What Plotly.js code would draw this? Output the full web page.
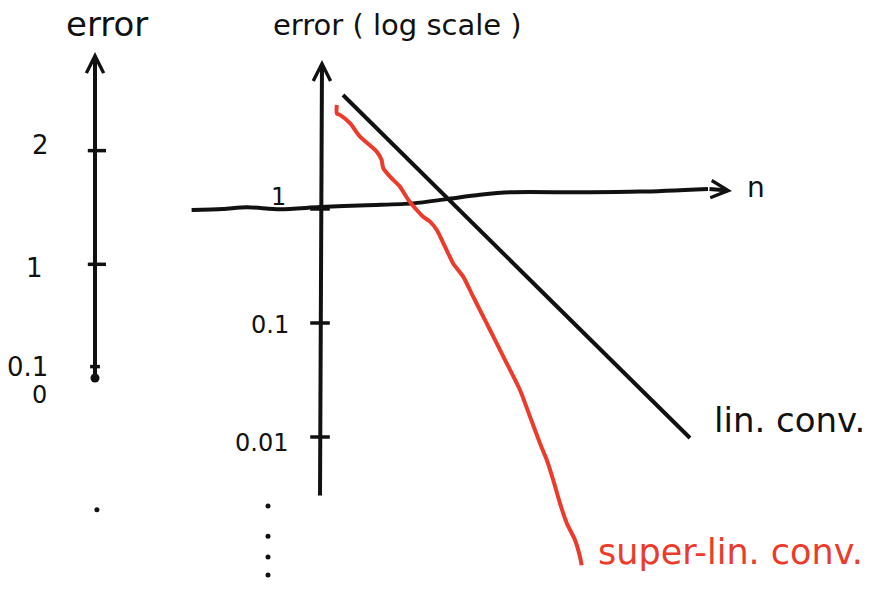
<!DOCTYPE html>
<html>
<head>
<meta charset="utf-8">
<script src="https://cdn.plot.ly/plotly-3.0.1.min.js"></script>
<style>
  html, body { margin: 0; padding: 0; background: #ffffff; }
  #chart { width: 885px; height: 590px; }
</style>
</head>
<body>
<div id="chart"></div>
<script>
// ---- Left sketch: error on a plain (linear) axis ----
const linTickVals = [2, 1, 0.1];
const linTickText = ['2', '1', '0.1'];
const linZeroVal = [0];
const linAxisTop = 2.867;      // where the arrow tip sits
const linAxisBottom = -0.044;
const linTrailDot = [-1.16];   // lone dot under the axis

// ---- Right sketch: error on a log scale against iteration n ----
const logTickVals = [1, 0.1, 0.01];
const logTickText = ['1', '0.1', '0.01'];
const logAxisTop = 20.3;
const logAxisBottom = 0.00298;
const ellipsisN = [-1.3, -1.3, -1.3, -1.3];
const ellipsisErr = [0.00248, 0.00135, 0.000885, 0.000615];

// hand-drawn n axis (runs along error = 1)
const nAxisN   = [-3.21, -2.43, -1.83, -1.0, 0, 1.17, 2.33, 3.17, 4.0, 4.75, 6.5, 8.0, 9.7];
const nAxisErr = [0.98, 1.0, 1.035, 0.994, 1.04, 1.08, 1.12, 1.22, 1.33, 1.40, 1.40, 1.42, 1.50];

// linear convergence: a straight line on the log scale
const linConvN   = [0.575, 9.25];
const linConvErr = [10, 0.0098];

// super-linear convergence: bends ever more steeply downward
const superN = [0.42, 0.42, 0.5, 0.75, 1.0, 1.42, 1.54, 1.58, 1.75, 2.0, 2.21, 2.42, 2.58,
                2.75, 2.92, 3.125, 3.33, 3.58, 3.83, 4.08, 4.25, 4.46, 4.71, 5.0, 5.25,
                5.5, 5.67, 5.83, 6.0, 6.17, 6.375, 6.5, 6.54];
const superErr = [8.17, 6.9, 6.68, 5.65, 4.31, 3.18, 2.69, 2.28, 1.92, 1.57, 1.20, 0.98, 0.855,
                  0.774, 0.654, 0.467, 0.333, 0.255, 0.170, 0.114, 0.0868, 0.062, 0.0414, 0.0258, 0.0151,
                  0.0088, 0.00628, 0.0042, 0.00262, 0.00175, 0.00125, 0.00089, 0.00075];

const INK = '#111111';
const RED = '#ec3b2a';
const FONT = 'DejaVu Sans';
const lg = Math.log10;

// one short horizontal tick mark per value
function tickTrace(xa, ya, xs, ys, size) {
  return { x: xs, y: ys, xaxis: xa, yaxis: ya, mode: 'markers',
    marker: { symbol: 'line-ew-open', size: size, color: INK, line: { color: INK, width: 3.5 } },
    hoverinfo: 'skip' };
}

const traces = [
  // left axis tick marks (the 0.1 one is only a nub)
  tickTrace('x', 'y', [0.02, 0.02], linTickVals.slice(0, 2), 13),
  tickTrace('x', 'y', [0.0], linTickVals.slice(2), 7),
  { x: [0], y: linZeroVal, xaxis: 'x', yaxis: 'y', mode: 'markers',
    marker: { symbol: 'circle', size: 9, color: INK }, hoverinfo: 'skip' },
  { x: [0.02], y: linTrailDot, xaxis: 'x', yaxis: 'y', mode: 'markers',
    marker: { symbol: 'circle', size: 5, color: INK }, hoverinfo: 'skip' },

  // right: n axis
  { x: nAxisN, y: nAxisErr, xaxis: 'x2', yaxis: 'y2', mode: 'lines',
    line: { color: INK, width: 4, shape: 'spline', smoothing: 0.8 }, hoverinfo: 'skip' },
  // log axis tick marks
  tickTrace('x2', 'y2', logTickVals.map(() => 0), logTickVals, 14),
  // vertical ellipsis under the log axis labels
  { x: ellipsisN, y: ellipsisErr, xaxis: 'x2', yaxis: 'y2', mode: 'markers',
    marker: { symbol: 'circle', size: 5, color: INK }, hoverinfo: 'skip' },

  // linear convergence
  { x: linConvN, y: linConvErr, xaxis: 'x2', yaxis: 'y2', mode: 'lines',
    line: { color: INK, width: 4 }, hoverinfo: 'skip' },
  // super-linear convergence
  { x: superN, y: superErr, xaxis: 'x2', yaxis: 'y2', mode: 'lines',
    line: { color: RED, width: 4, shape: 'spline', smoothing: 0.6 }, hoverinfo: 'skip' }
];

function arrow(xref, yref, x0, y0, x1, y1) {
  return {
    xref: xref, yref: yref, axref: xref, ayref: yref,
    x: x1, y: y1, ax: x0, ay: y0, text: '',
    showarrow: true, arrowhead: 5, arrowsize: 0.85, arrowwidth: 4,
    arrowcolor: INK, standoff: 0, startstandoff: 0
  };
}

function label(text, xref, yref, x, y, size, color, opts) {
  return Object.assign({
    xref: xref, yref: yref, x: x, y: y, text: text, showarrow: false,
    font: { family: FONT, size: size, color: color || INK }
  }, opts || {});
}

const annotations = [
  // axes drawn as arrows
  arrow('x', 'y', 0, linAxisBottom, 0, linAxisTop),
  arrow('x2', 'y2', 0, lg(logAxisBottom), 0.05, lg(logAxisTop)),
  arrow('x2', 'y2', 9.7, lg(1.50), 10.3, lg(1.44)),

  // titles
  label('error', 'x', 'paper', 0.13, 0.997, 34),
  label('error ( log scale )', 'paper', 'paper', 0.449, 0.99, 29),
  label('n', 'x2', 'y2', 10.9, lg(1.55), 28),

  // series labels
  label('lin. conv.', 'x2', 'y2', 9.8, lg(0.0141), 34, INK, { xanchor: 'left' }),
  label('super-lin. conv.', 'x2', 'y2', 6.9, lg(0.00098), 35, RED, { xanchor: 'left' })
];

// left tick labels
const linLabelX = [-0.57, -0.64, -0.71];
const linLabelShift = [6, -4, 0];
linTickVals.forEach((v, i) => {
  annotations.push(label(linTickText[i], 'x', 'y', linLabelX[i], v, 26, INK, { yshift: linLabelShift[i] }));
});
annotations.push(label('0', 'x', 'y', -0.58, 0, 24, INK, { yshift: -17 }));

// log tick labels
const logLabelX = [-1.05, -1.25, -1.47];
const logLabelShift = [12, -2, -6];
logTickVals.forEach((v, i) => {
  annotations.push(label(logTickText[i], 'x2', 'y2', logLabelX[i], lg(v), 24, INK, { yshift: logLabelShift[i] }));
});

const hidden = { visible: false, fixedrange: true };

const layout = {
  width: 885, height: 590,
  margin: { l: 0, r: 0, t: 0, b: 0, pad: 0 },
  paper_bgcolor: '#ffffff', plot_bgcolor: '#ffffff',
  showlegend: false,
  xaxis:  Object.assign({ domain: [0, 190 / 885], range: [-1, 1], anchor: 'y' }, hidden),
  yaxis:  Object.assign({ domain: [0, 1], range: [-1.865, 3.325], anchor: 'x' }, hidden),
  xaxis2: Object.assign({ domain: [190 / 885, 1], range: [-3.25, 14.125], anchor: 'y2' }, hidden),
  yaxis2: Object.assign({ domain: [0, 1], type: 'log', range: [-3.342, 1.833], anchor: 'x2' }, hidden),
  annotations: annotations
};

Plotly.newPlot('chart', traces, layout, { displayModeBar: false, staticPlot: true });
</script>
</body>
</html>
